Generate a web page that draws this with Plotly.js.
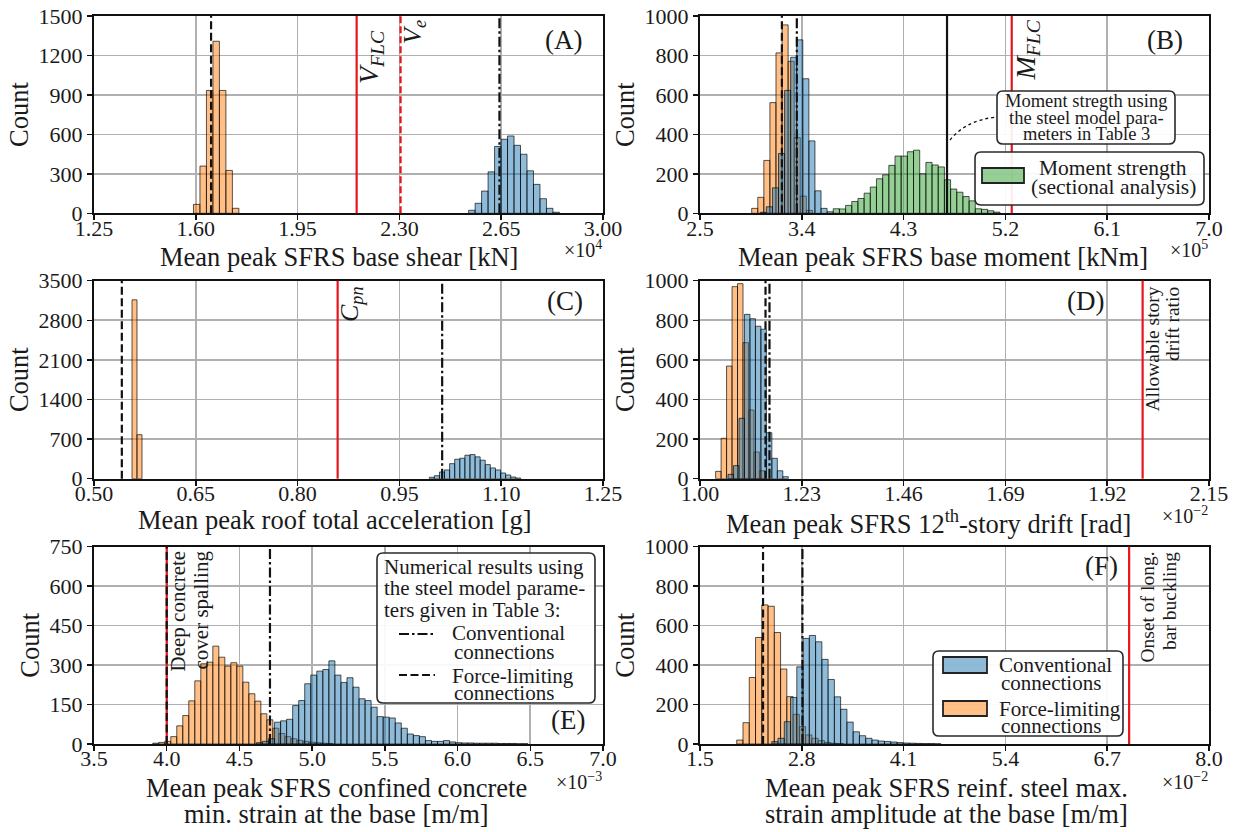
<!DOCTYPE html>
<html><head><meta charset="utf-8">
<script src="https://cdn.plot.ly/plotly-3.0.1.min.js"></script>
<style>html,body{margin:0;padding:0;background:#fff}#chart{width:1237px;height:832px}</style>
</head><body><div id="chart"></div>
<script>
// ---------------- DATA ----------------
// (A) base shear, x in 1e4 kN
const A_fl_start = 1.592, A_fl_width = 0.0223;
const A_fl_counts = [68, 359, 934, 1308, 934, 326, 38];
const A_cv_start = 2.538, A_cv_width = 0.0223;
const A_cv_counts = [23, 76, 169, 315, 508, 563, 588, 517, 449, 323, 220, 111, 38, 8];
const A_means = {fl: 1.6525, cv: 2.644};
const A_limits = {VFLC: 2.153, Ve: 2.304};
const A_xticks = [1.25, 1.60, 1.95, 2.30, 2.65, 3.00];
const A_yticks = [0, 300, 600, 900, 1200, 1500];

// (B) base moment, x in 1e5 kNm
const B_fl_start = 2.957, B_fl_width = 0.0537;
const B_fl_counts = [25, 81, 268, 561, 813, 955, 770, 384, 87, 15];
const B_cv_start = 3.033, B_cv_width = 0.0537;
const B_cv_counts = [5, 33, 129, 303, 623, 791, 879, 682, 367, 114, 25, 8];
const B_gr_start = 3.678, B_gr_width = 0.0546;
const B_gr_counts = [23, 22, 40, 60, 75, 102, 133, 175, 195, 243, 290, 290, 312, 320, 200, 258, 245, 235, 170, 123, 107, 85, 63, 23, 20, 13, 6];
const B_means = {fl: 3.224, cv: 3.356};
const B_strength = 4.684;
const B_limits = {MFLC: 5.256};
const B_xticks = [2.5, 3.4, 4.3, 5.2, 6.1, 7.0];
const B_yticks = [0, 200, 400, 600, 800, 1000];

// (C) roof acceleration, g
const C_fl_start = 0.556, C_fl_width = 0.00737;
const C_fl_counts = [3162, 777];
const C_cv_start = 0.994, C_cv_width = 0.0075;
const C_cv_counts = [25, 53, 119, 155, 266, 344, 362, 415, 426, 386, 327, 249, 190, 155, 101, 66, 30, 12];
const C_means = {fl: 0.541, cv: 1.013};
const C_limits = {Cpn: 0.859};
const C_xticks = [0.50, 0.65, 0.80, 0.95, 1.10, 1.25];
const C_yticks = [0, 700, 1400, 2100, 2800, 3500];

// (D) 12th story drift, x in 1e-2 rad
const D_fl_start = 1.0353, D_fl_width = 0.01237;
const D_fl_counts = [37, 204, 569, 970, 985, 687, 347, 135, 40];
const D_cv_start = 1.0634, D_cv_width = 0.01237;
const D_cv_counts = [22, 66, 305, 830, 808, 770, 755, 232, 103, 40, 10];
const D_means = {fl: 1.148, cv: 1.157};
const D_limits = {drift: 2.0};
const D_xticks = [1.00, 1.23, 1.46, 1.69, 1.92, 2.15];
const D_yticks = [0, 200, 400, 600, 800, 1000];

// (E) confined concrete min strain, x in 1e-3
const E_fl_start = 3.904, E_fl_width = 0.0413;
const E_fl_counts = [3, 6, 10, 28, 69, 108, 164, 240, 305, 311, 372, 330, 296, 309, 296, 235, 191, 163, 115, 92, 60, 40, 28, 20, 14, 10, 7, 5, 3, 2];
const E_cv_start = 4.617, E_cv_width = 0.0415;
const E_cv_counts = [5, 10, 20, 83, 88, 94, 146, 165, 229, 262, 277, 283, 316, 262, 234, 252, 216, 172, 165, 140, 104, 102, 99, 80, 60, 38, 32, 28, 13, 10, 10, 13, 8, 5, 4, 4, 3, 3, 3, 3, 2, 2, 2, 1, 1];
const E_means = {fl: 4.0, cv: 4.71};
const E_limits = {spalling: 4.0};
const E_xticks = [3.5, 4.0, 4.5, 5.0, 5.5, 6.0, 6.5, 7.0];
const E_yticks = [0, 150, 300, 450, 600, 750];

// (F) reinforcing steel strain amplitude, x in 1e-2
const F_fl_start = 1.969, F_fl_width = 0.08;
const F_fl_counts = [20, 108, 337, 540, 705, 698, 565, 380, 240, 150, 88, 46, 29, 17, 8, 4, 2];
const F_cv_start = 2.416, F_cv_width = 0.08;
const F_cv_counts = [12, 29, 113, 236, 391, 535, 550, 518, 429, 327, 239, 176, 111, 62, 42, 29, 20, 15, 13, 10, 7, 5, 4, 3, 2, 2, 1];
const F_means = {fl: 2.305, cv: 2.808};
const F_limits = {buckling: 6.98};
const F_xticks = [1.5, 2.8, 4.1, 5.4, 6.7, 8.0];
const F_yticks = [0, 200, 400, 600, 800, 1000];

// ---------------- STYLE / HELPERS ----------------
const W = 1237, H = 832;
const FONT = 'Liberation Serif';
const TXT = '#1a1a1a';
const BLUE = 'rgba(31,119,180,0.5)', ORANGE = 'rgba(255,127,14,0.5)', GREEN = 'rgba(44,160,44,0.5)';
const EDGE = 'rgba(0,0,0,0.65)';
const RED = '#e8141c';
const DASH = '8px,3.5px';
const DASHDOT = '10px,3px,2.5px,3px';
const LBL = 26.5;
const px = x => x / W;
const py = y => 1 - y / H;

function bins(start, width, counts, color, n) {
  const x = counts.map((_, i) => start + width * (i + 0.5));
  return {type: 'bar', x: x, y: counts, width: width,
    marker: {color: color, line: {color: EDGE, width: 1}},
    xaxis: 'x' + (n === 1 ? '' : n), yaxis: 'y' + (n === 1 ? '' : n),
    showlegend: false, hoverinfo: 'x+y'};
}

const traces = [
  bins(A_fl_start, A_fl_width, A_fl_counts, ORANGE, 1),
  bins(A_cv_start, A_cv_width, A_cv_counts, BLUE, 1),
  bins(B_gr_start, B_gr_width, B_gr_counts, GREEN, 2),
  bins(B_fl_start, B_fl_width, B_fl_counts, ORANGE, 2),
  bins(B_cv_start, B_cv_width, B_cv_counts, BLUE, 2),
  bins(C_fl_start, C_fl_width, C_fl_counts, ORANGE, 3),
  bins(C_cv_start, C_cv_width, C_cv_counts, BLUE, 3),
  bins(D_fl_start, D_fl_width, D_fl_counts, ORANGE, 4),
  bins(D_cv_start, D_cv_width, D_cv_counts, BLUE, 4),
  bins(E_fl_start, E_fl_width, E_fl_counts, ORANGE, 5),
  bins(E_cv_start, E_cv_width, E_cv_counts, BLUE, 5),
  bins(F_fl_start, F_fl_width, F_fl_counts, ORANGE, 6),
  bins(F_cv_start, F_cv_width, F_cv_counts, BLUE, 6)
];

const XL = [94, 603], XR = [700, 1209];
const ROWS = [[16, 213.3], [280.7, 478.7], [546.7, 744]];

function xax(dom, ticks, dec, anchor) {
  return {domain: [px(dom[0]), px(dom[1])], range: [ticks[0], ticks[ticks.length - 1]],
    tickmode: 'array', tickvals: ticks, ticktext: ticks.map(v => v.toFixed(dec)),
    showline: true, linecolor: '#111', linewidth: 2, mirror: true,
    ticks: 'outside', ticklen: 5, tickwidth: 1.5, tickcolor: '#111', ticklabelstandoff: -11,
    showgrid: true, gridcolor: '#b0b0b0', gridwidth: 1.6, zeroline: false,
    tickfont: {family: FONT, size: 22, color: TXT}, anchor: anchor, fixedrange: true};
}
function yax(row, ticks, anchor) {
  return {domain: [py(row[1]), py(row[0])], range: [ticks[0], ticks[ticks.length - 1]],
    tickmode: 'array', tickvals: ticks, ticktext: ticks.map(String),
    showline: true, linecolor: '#111', linewidth: 2, mirror: true,
    ticks: 'outside', ticklen: 5, tickwidth: 1.5, tickcolor: '#111',
    showgrid: true, gridcolor: '#b0b0b0', gridwidth: 1.6, zeroline: false,
    tickfont: {family: FONT, size: 22, color: TXT}, anchor: anchor, fixedrange: true,
    title: {text: 'Count', font: {family: FONT, size: LBL, color: TXT}, standoff: 2}};
}

const shapes = [];
function vline(n, x, color, dash) {
  const s = n === 1 ? '' : n;
  shapes.push({type: 'line', xref: 'x' + s, yref: 'y' + s + ' domain', x0: x, x1: x, y0: 0, y1: 1,
    line: {color: color, width: 2.2, dash: dash}, layer: 'above'});
}
vline(1, A_limits.VFLC, RED, 'solid');
vline(1, A_limits.Ve, RED, '7px,3px');
vline(1, A_means.fl, '#111', DASH);
vline(1, A_means.cv, '#111', DASHDOT);
vline(2, B_limits.MFLC, RED, 'solid');
vline(2, B_strength, '#111', 'solid');
vline(2, B_means.fl, '#111', DASH);
vline(2, B_means.cv, '#111', DASHDOT);
vline(3, C_limits.Cpn, RED, 'solid');
vline(3, C_means.fl, '#111', DASH);
vline(3, C_means.cv, '#111', DASHDOT);
vline(4, D_limits.drift, RED, 'solid');
vline(4, D_means.fl, '#111', DASH);
vline(4, D_means.cv, '#111', DASHDOT);
vline(5, E_limits.spalling, RED, 'solid');
vline(5, E_means.fl, '#111', DASH);
vline(5, E_means.cv, '#111', DASHDOT);
vline(6, F_limits.buckling, RED, 'solid');
vline(6, F_means.fl, '#111', DASH);
vline(6, F_means.cv, '#111', DASHDOT);

function P(x, y) { return px(x).toFixed(5) + ',' + py(y).toFixed(5); }
function roundBox(x0, y0, x1, y1, r) {
  const d = 'M' + P(x0 + r, y0) + ' L' + P(x1 - r, y0) + ' Q' + P(x1, y0) + ' ' + P(x1, y0 + r) +
    ' L' + P(x1, y1 - r) + ' Q' + P(x1, y1) + ' ' + P(x1 - r, y1) +
    ' L' + P(x0 + r, y1) + ' Q' + P(x0, y1) + ' ' + P(x0, y1 - r) +
    ' L' + P(x0, y0 + r) + ' Q' + P(x0, y0) + ' ' + P(x0 + r, y0) + ' Z';
  shapes.push({type: 'path', xref: 'paper', yref: 'paper', path: d,
    fillcolor: 'rgba(255,255,255,0.92)', line: {color: '#2a2a2a', width: 1.6}, layer: 'above'});
}
function rectPx(x0, y0, x1, y1, fill) {
  shapes.push({type: 'rect', xref: 'paper', yref: 'paper', x0: px(x0), x1: px(x1), y0: py(y1), y1: py(y0),
    fillcolor: fill, line: {color: '#222', width: 1.8}, layer: 'above'});
}
function segPx(x0, y0, x1, y1, dash) {
  shapes.push({type: 'line', xref: 'paper', yref: 'paper', x0: px(x0), x1: px(x1), y0: py(y0), y1: py(y1),
    line: {color: '#111', width: 2.2, dash: dash}, layer: 'above'});
}

// dotted connector (B)
shapes.push({type: 'path', xref: 'paper', yref: 'paper', path: 'M' + P(950, 140) + ' Q' + P(966, 120) + ' ' + P(997, 117),
  line: {color: '#111', width: 1.3, dash: 'dot'}, layer: 'above'});
// annotation box (B)
roundBox(997, 91, 1175, 144, 6);
// legend (B)
roundBox(975, 152, 1204, 205, 6);
rectPx(982, 168, 1024, 183, GREEN);
// legend (E)
roundBox(377, 553, 595, 703, 6);
segPx(399, 634, 435, 634, DASHDOT);
segPx(399, 675, 435, 675, DASH);
// legend (F)
roundBox(933, 651, 1123, 736, 6);
rectPx(943, 657, 987, 673, BLUE);
rectPx(943, 701, 987, 716, ORANGE);

const ann = [];
function T(text, x, y, size, opts) {
  ann.push(Object.assign({text: text, xref: 'paper', yref: 'paper', x: px(x), y: py(y), showarrow: false,
    font: {family: FONT, size: size, color: TXT}, xanchor: 'center', yanchor: 'middle'}, opts || {}));
}
// panel tags
T('(A)', 563, 40, 27); T('(B)', 1165, 40, 27); T('(C)', 565, 301, 27);
T('(D)', 1085, 301, 27); T('(E)', 568, 720, 27); T('(F)', 1101, 566, 27);
// x labels
T('Mean peak SFRS base shear [kN]', 339, 257, LBL);
T('Mean peak SFRS base moment [kNm]', 943, 257, LBL);
T('Mean peak roof total acceleration [g]', 335, 520, LBL);
T('Mean peak SFRS 12<sup>th</sup>-story drift [rad]', 928, 522, LBL);
T('Mean peak SFRS confined concrete', 336, 788, LBL);
T('min. strain at the base [m/m]', 336, 814, LBL);
T('Mean peak SFRS reinf. steel max.', 946, 788, LBL);
T('strain amplitude at the base [m/m]', 946, 814, LBL);
// offset exponents
T('×10<sup>4</sup>', 604, 249, 20, {xanchor: 'right'});
T('×10<sup>5</sup>', 1210, 249, 20, {xanchor: 'right'});
T('×10<sup>−2</sup>', 1210, 515, 20, {xanchor: 'right'});
T('×10<sup>−3</sup>', 604, 781, 20, {xanchor: 'right'});
T('×10<sup>−2</sup>', 1210, 781, 20, {xanchor: 'right'});
// rotated limit labels
T('<i>V</i><sub><i>FLC</i></sub>', 370, 28, 28, {textangle: -90, yanchor: 'top'});
T('<i>V</i><sub><i>e</i></sub>', 414, 18, 26, {textangle: -90, yanchor: 'top'});
T('<i>M</i><sub><i>FLC</i></sub>', 1027, 18, 28, {textangle: -90, yanchor: 'top'});
T('<i>C</i><sub><i>pn</i></sub>', 351, 284, 26, {textangle: -90, yanchor: 'top'});
T('Allowable story', 1152, 285, 19.5, {textangle: -90, yanchor: 'top'});
T('drift ratio', 1173, 285, 19.5, {textangle: -90, yanchor: 'top'});
T('Deep concrete', 177, 549, 21, {textangle: -90, yanchor: 'top'});
T('cover spalling', 200, 549, 21, {textangle: -90, yanchor: 'top'});
T('Onset of long.', 1147, 550, 19.5, {textangle: -90, yanchor: 'top'});
T('bar buckling', 1169, 550, 19.5, {textangle: -90, yanchor: 'top'});
// annotation box B text
T('Moment stregth using', 1086, 101, 18.5);
T('the steel model para-', 1086, 118, 18.5);
T('meters in Table 3', 1086, 134, 18.5);
// legend B text
T('Moment strength', 1113, 168, 21.5);
T('(sectional analysis)', 1113, 187, 21.5);
// legend E text
T('Numerical results using', 382, 567, 21, {xanchor: 'left'});
T('the steel model parame-', 382, 588, 21, {xanchor: 'left'});
T('ters given in Table 3:', 382, 610, 21, {xanchor: 'left'});
T('Conventional', 450, 633, 21, {xanchor: 'left'});
T('connections', 452, 652, 21, {xanchor: 'left'});
T('Force-limiting', 450, 676, 21, {xanchor: 'left'});
T('connections', 452, 693, 21, {xanchor: 'left'});
// legend F text
T('Conventional', 997, 665, 21, {xanchor: 'left'});
T('connections', 999, 683, 21, {xanchor: 'left'});
T('Force-limiting', 997, 709, 21, {xanchor: 'left'});
T('connections', 999, 726, 21, {xanchor: 'left'});

const layout = {
  width: W, height: H, margin: {l: 0, r: 0, t: 0, b: 0},
  paper_bgcolor: '#fff', plot_bgcolor: '#fff', barmode: 'overlay', showlegend: false,
  font: {family: FONT, color: TXT},
  xaxis: xax(XL, A_xticks, 2, 'y'), yaxis: yax(ROWS[0], A_yticks, 'x'),
  xaxis2: xax(XR, B_xticks, 1, 'y2'), yaxis2: yax(ROWS[0], B_yticks, 'x2'),
  xaxis3: xax(XL, C_xticks, 2, 'y3'), yaxis3: yax(ROWS[1], C_yticks, 'x3'),
  xaxis4: xax(XR, D_xticks, 2, 'y4'), yaxis4: yax(ROWS[1], D_yticks, 'x4'),
  xaxis5: xax(XL, E_xticks, 1, 'y5'), yaxis5: yax(ROWS[2], E_yticks, 'x5'),
  xaxis6: xax(XR, F_xticks, 1, 'y6'), yaxis6: yax(ROWS[2], F_yticks, 'x6'),
  shapes: shapes, annotations: ann
};
Plotly.newPlot('chart', traces, layout, {staticPlot: true, displayModeBar: false});
</script></body></html>
